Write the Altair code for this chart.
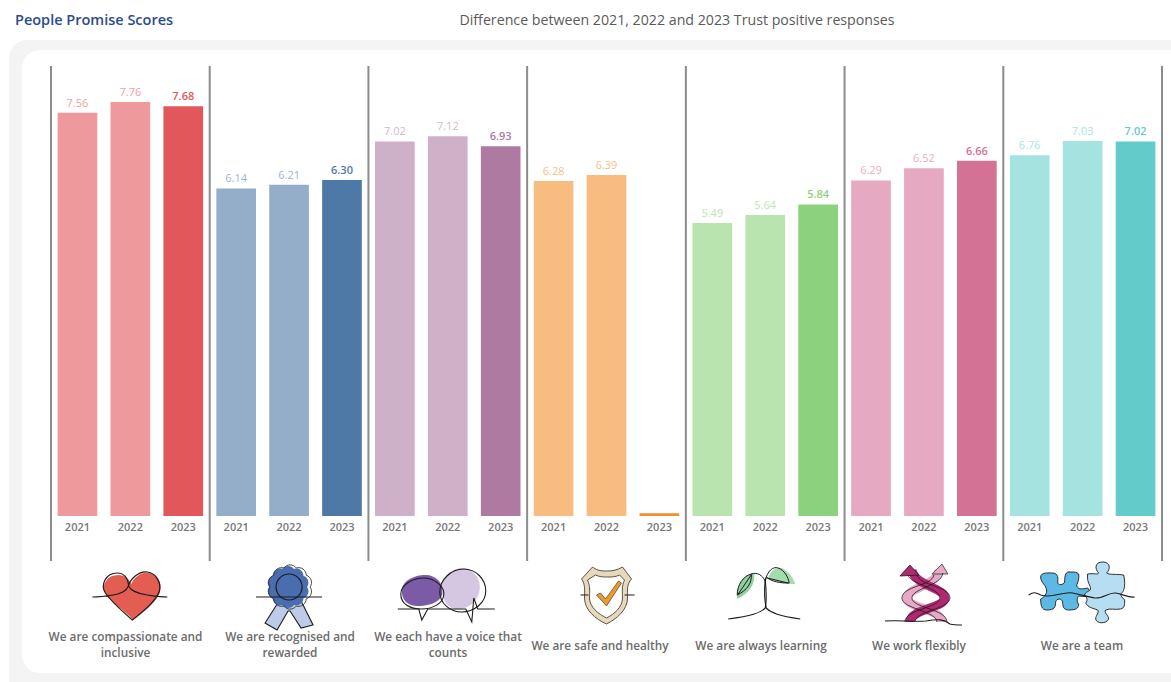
import math
import altair as alt
import pandas as pd

# Survey scores per People Promise and year
promises = [
    "We are compassionate and\ninclusive",
    "We are recognised and\nrewarded",
    "We each have a voice that\ncounts",
    "We are safe and healthy",
    "We are always learning",
    "We work flexibly",
    "We are a team",
]
years = ["2021", "2022", "2023"]
scores = [
    [7.56, 7.76, 7.68],
    [6.14, 6.21, 6.30],
    [7.02, 7.12, 6.93],
    [6.28, 6.39, 0.05],
    [5.49, 5.64, 5.84],
    [6.29, 6.52, 6.66],
    [6.76, 7.03, 7.02],
]
light = ["#ee9a9c", "#94aec9", "#cfb0c9", "#f8bc80", "#b9e4b0", "#e6a9c2", "#a5e3e1"]
dark = ["#e25759", "#4e79a7", "#af7aa1", "#f28e2b", "#8cd17d", "#d37295", "#63cccb"]
label_light = ["#f0a0a2", "#9db5cf", "#d4b7ce", "#f8c088", "#bde6b5", "#e9afc7", "#a9e5e3"]
label_dark = ["#e25759", "#4e79a7", "#af7aa1", "#f28e2b", "#8cd17d", "#d37295", "#63cccb"]
# Horizontal centres of the captions, measured from the plot's left edge
caption_x = [74.5, 239, 397, 549, 710, 868, 1031]

INK = "#1c1c1c"
FONT = "Open Sans"
GREY = "#6b6b6b"


def scallop(cx, cy, radius, lobes):
    """Closed wavy outline of a rosette."""
    pts = [
        (cx + radius * math.cos(2 * math.pi * i / lobes), cy + radius * math.sin(2 * math.pi * i / lobes))
        for i in range(lobes)
    ]
    arc = radius * math.sin(math.pi / lobes) * 1.25
    d = f"M{pts[0][0]:.1f} {pts[0][1]:.1f}"
    for p in pts[1:] + pts[:1]:
        d += f"A{arc:.1f} {arc:.1f} 0 0 1 {p[0]:.1f} {p[1]:.1f}"
    return d + "Z"


# Icon artwork: (panel index, path, fill, stroke, stroke width), painted in order.
# Paths are pixel offsets from the icon centre.
icon_parts = [
    # heart
    (0, "M3 25C-8 14-18 8-24 0C-30-9-24-20-12-20C-6-20-1-16 1-11C4-18 11-23 18-22C28-21 33-10 29-1C24 9 12 18 3 25Z", "#e35d52", "transparent", 0),
    (0, "M-38 2C-30 2-23 1-17 0C-10-1-4-4-2-9C0-16 8-24 17-23C26-22 31-12 29-4C26 6 12 17 2 25C-6 18-18 8-25-2C-30-10-25-22-13-22C-6-22-2-16-2-11C-2-5 8-1 17 0C24 1 30 2 37 2", "transparent", INK, 1.2),
    # rosette
    (1, "M-10 6L-24 28L-12 35L-1 16L1 16L12 33L24 30L12 6Z", "#bccbe6", INK, 1.1),
    (1, scallop(-1, -8, 19, 10), "#4a6db0", "transparent", 0),
    (1, scallop(1, -8, 20, 10), "transparent", "#333333", 0.9),
    (1, "M-13 -8A13 13 0 1 1 13 -8A13 13 0 1 1 -13 -8Z", "transparent", INK, 1.2),
    (1, "M-33 2L33 2", "transparent", INK, 1.2),
    # speech bubbles
    (2, "M-46-4C-46-14-34-20-22-20C-12-20-5-12-5-4C-5 6-17 11-30 11C-40 11-46 5-46-4Z", "#7b5aa6", "transparent", 0),
    (2, "M-6-8C-6-18 4-27 14-27C24-27 32-18 32-8C32 4 22 14 10 14C0 14-6 6-6-8Z", "#d5c6e2", "transparent", 0),
    (2, "M-47-1C-47-11-34-17-24-17C-14-17-3-9-4 0C-5 9-16 14-26 14C-38 14-47 9-47-1Z", "transparent", INK, 1.1),
    (2, "M-8-3C-8-15 3-26 16-26C28-26 38-16 38-4C38 8 26 17 14 17C2 17-8 8-8-3Z", "transparent", INK, 1.1),
    (2, "M-50 14L-29 14L-26 25L-20 14L18 14L24 27L26 3L30 14L47 14", "transparent", INK, 1.1),
    # shield
    (3, "M-14-28C-9-24-4-24 1-24C6-24 11-25 16-28L25-16C20-11 21-4 21 3C21 15 10 24 0 29C-11 24-22 15-22 3C-22-4-21-11-25-16Z", "#e8d9bc", "#4a4033", 0.9),
    (3, "M-11-20C-7-18-3-18 1-18C5-18 9-18 13-20L18-15C15-9 16-3 16 3C16 12 8 19 0 23C-8 19-17 12-17 3C-17-3-16-9-19-15Z", "#ffffff", "#4a4033", 0.9),
    (3, "M-10 0L-6-2L-1 4L12-14L15-12L0 11Z", "#ee9a2b", "#4a4033", 0.7),
    (3, "M-26 0L-18 0M18 0L28 0", "transparent", INK, 1.1),
    # sprout
    (4, "M-28 4C-30-10-22-20-11-22C-10-10-16-2-28 4Z", "#8fd0a0", "transparent", 0),
    (4, "M3-17C6-26 14-30 20-25C27-20 29-14 30-11C20-11 10-12 3-17Z", "#a5dcae", "transparent", 0),
    (4, "M-28 0C-28-10-22-19-14-21C-13-12-18-5-28 0ZM-27-1L-14-20M-14-21C-8-23-3-20 0-14", "transparent", INK, 1.0),
    (4, "M0-14C2-24 8-29 13-27C19-25 23-18 24-12C15-12 7-13 1-18ZM2-17L23-12", "transparent", INK, 1.0),
    (4, "M0-16C1-5 2 5 0 13C-5 18-14 21-37 24", "transparent", INK, 1.1),
    (4, "M0-16C-1-5-1 5 1 13C6 18 14 21 35 24", "transparent", INK, 1.1),
    # crossing arrows
    (5, "M18 27C18 14-17 13-17 3C-17-7 13-9 15-25", "transparent", "#e6a9c7", 9),
    (5, "M8-21L18-31L24-21Z", "#e6a9c7", "#333333", 0.8),
    (5, "M-14 27C-14 14 21 13 21 3C21-7-9-9-12-25", "transparent", "#b0296f", 9),
    (5, "M-24-19L-14-30L-5-20Z", "#b0296f", INK, 0.8),
    (5, "M-19 27C-19 14 16 13 16 3C16-7-14-11-16-20M-9 27C-9 16 26 14 26 3C26-9-4-9-7-20", "transparent", INK, 0.8),
    (5, "M23 27C23 14-12 13-12 3C-12-7 18-9 19-22M13 27C13 16-22 14-22 3C-22-9 8-9 10-20", "transparent", INK, 0.8),
    (5, "M-39 26C-25 25-10 27 2 26C14 24 20 24 26 29C30 30 34 30 38 30", "transparent", INK, 1.1),
    # puzzle pieces
    (6, "M-42-18C-42-23-34-22-30-22C-26-22-24-19-25-13C-25-9-19-10-18-13C-18-20-17-24-12-23C-8-23-6-23-4-21C-3-15-6-11-6-9C-4-5 0-6 5-7C8-4 8 0 7 2L-4 1C-6 3-6 7-4 9C-4 13-6 15-14 15C-20 15-20 10-20 7C-21 3-26 3-27 7C-27 12-28 15-36 15C-41 15-42 10-42 4C-40 3-36 0-36-4C-36-10-42-12-42-18Z", "#5cb8e4", INK, 0.9),
    (6, "M5-21C12-22 15-20 16-22C12-26 12-33 20-33C28-33 28-26 24-22C26-20 36-21 41-20C43-12 42-4 39-2C37 0 39 2 42 5C42 10 42 13 38 14C32 15 27 13 23 15C21 18 26 20 26 24C24 29 14 29 13 24C13 20 17 18 15 15C10 13 6 13 3 8C5 6 5 3 2 0C2-3 8-4 8-6C8-10 4-12 5-21Z", "#b5def2", INK, 0.9),
    (6, "M-54 0C-48-4-46-2-42 0C-30 4-20-4-10-2C0 0 6 2 12 3C20 4 26-3 33-2C40-1 46 3 52 2", "transparent", INK, 1.1),
]

rows = [
    {"key": f"{i}|{y}", "panel": i, "year": y, "score": v}
    for i, vals in enumerate(scores)
    for y, v in zip(years, vals)
]
bars = pd.DataFrame(rows)
keys = bars["key"].tolist()
bar_colours = [dark[r["panel"]] if r["year"] == "2023" else light[r["panel"]] for r in rows]
text_colours = [label_dark[r["panel"]] if r["year"] == "2023" else label_light[r["panel"]] for r in rows]

band = alt.Scale(type="band", domain=keys, paddingInner=0.25, paddingOuter=0.125)
y_scale = alt.Scale(domain=[0, 8.435], nice=False, zero=True)
no_axis_x = alt.X("key:N", scale=band, axis=None)
no_axis_y = alt.Y("score:Q", scale=y_scale, axis=None)


def blank():
    return alt.Chart(pd.DataFrame({"a": [0]}))


# Dashboard card behind the plot
card_outer = blank().mark_rect(color="#f4f4f4", cornerRadius=18).encode(
    x=alt.value(-42), x2=alt.value(1200), y=alt.value(-26), y2=alt.value(640)
)
card_inner = blank().mark_rect(color="#ffffff", cornerRadius=18).encode(
    x=alt.value(-29), x2=alt.value(1190), y=alt.value(-16), y2=alt.value(607)
)

title = blank().mark_text(
    text="People Promise Scores", font=FONT, fontSize=14.5, fontWeight=600, color="#2b4c8c", align="left"
).encode(x=alt.value(-36), y=alt.value(-45))
subtitle = blank().mark_text(
    text="Difference between 2021, 2022 and 2023 Trust positive responses", font=FONT, fontSize=14.2, color="#5a5a5a", align="center"
).encode(x=alt.value(626), y=alt.value(-45))

# Panel separators sit on panel edges, so they use a numeric scale of their own
edges = pd.DataFrame({"edge": list(range(len(promises) + 1))})
dividers = alt.Chart(edges).mark_rule(color="#8c8c8c", strokeWidth=2).encode(
    x=alt.X("edge:Q", scale=alt.Scale(domain=[0, len(promises)], nice=False, zero=False), axis=None),
    y=alt.value(0),
    y2=alt.value(495),
)

colour = alt.Color("key:N", scale=alt.Scale(domain=keys, range=bar_colours), legend=None)
bar_layer = alt.Chart(bars).mark_bar().encode(
    x=alt.X(
        "key:N",
        scale=band,
        title=None,
        axis=alt.Axis(
            labelExpr="slice(datum.value, -4)",
            labelAngle=0,
            labelFont=FONT,
            labelFontSize=11,
            labelColor="#777777",
            labelFontWeight=600,
            labelPadding=5,
            ticks=False,
            domain=False,
            grid=False,
            zindex=1,
        ),
    ),
    y=no_axis_y,
    color=colour,
)

# Value labels: the latest year is set in bold, and the near-empty bar stays unlabelled
text_colour = alt.Color("key:N", scale=alt.Scale(domain=keys, range=text_colours), legend=None)
labels_prior = alt.Chart(bars).transform_filter("datum.year != '2023'").mark_text(
    font=FONT, fontSize=11, fontWeight=500, baseline="bottom", dy=-4
).encode(x=no_axis_x, y=no_axis_y, text=alt.Text("score:Q", format=".2f"), color=text_colour)
labels_latest = alt.Chart(bars).transform_filter("datum.year == '2023' && datum.score > 1").mark_text(
    font=FONT, fontSize=11, fontWeight=600, baseline="bottom", dy=-4
).encode(x=no_axis_x, y=no_axis_y, text=alt.Text("score:Q", format=".2f"), color=text_colour)

# Captions sit under the icons; two-line captions start higher than single-line ones
captions = pd.DataFrame(
    {"caption": promises, "cx": caption_x, "lines": [p.count("\n") + 1 for p in promises]}
)
caption_mark = dict(font=FONT, fontSize=11.8, fontWeight=600, color=GREY, baseline="middle", lineBreak="\n", lineHeight=16)
caption_x_enc = alt.X("cx:Q", scale=None, axis=None)
caption_single = alt.Chart(captions).transform_filter("datum.lines == 1").mark_text(**caption_mark).encode(
    x=caption_x_enc, y=alt.value(580), text="caption:N"
)
caption_double = alt.Chart(captions).transform_filter("datum.lines == 2").mark_text(**caption_mark).encode(
    x=caption_x_enc, y=alt.value(571), text="caption:N"
)

# Icons are centred on each panel's middle band
icons = pd.DataFrame(
    [
        {"order": n, "key": f"{p}|2022", "path": d, "fill": f, "stroke": s, "sw": w}
        for n, (p, d, f, s, w) in enumerate(icon_parts)
    ]
)
icon_layer = alt.Chart(icons).mark_point(size=4, opacity=1, filled=True).encode(
    x=no_axis_x,
    y=alt.value(529),
    shape=alt.Shape("path:N", scale=None),
    fill=alt.Fill("fill:N", scale=None),
    stroke=alt.Stroke("stroke:N", scale=None),
    strokeWidth=alt.StrokeWidth("sw:Q", scale=None),
    order=alt.Order("order:Q"),
)

chart = (
    alt.layer(
        card_outer,
        card_inner,
        title,
        subtitle,
        dividers,
        bar_layer,
        labels_prior,
        labels_latest,
        icon_layer,
        caption_single,
        caption_double,
    )
    .resolve_scale(x="independent", color="independent")
    .properties(
        width=1111,
        height=450,
        padding={"left": 51, "top": 66, "right": 9, "bottom": 166},
        autosize=alt.AutoSizeParams(type="none"),
        background="#ffffff",
    )
    .configure_view(stroke=None)
)

chart.save("out.html", embed_options={"renderer": "svg", "actions": False})
